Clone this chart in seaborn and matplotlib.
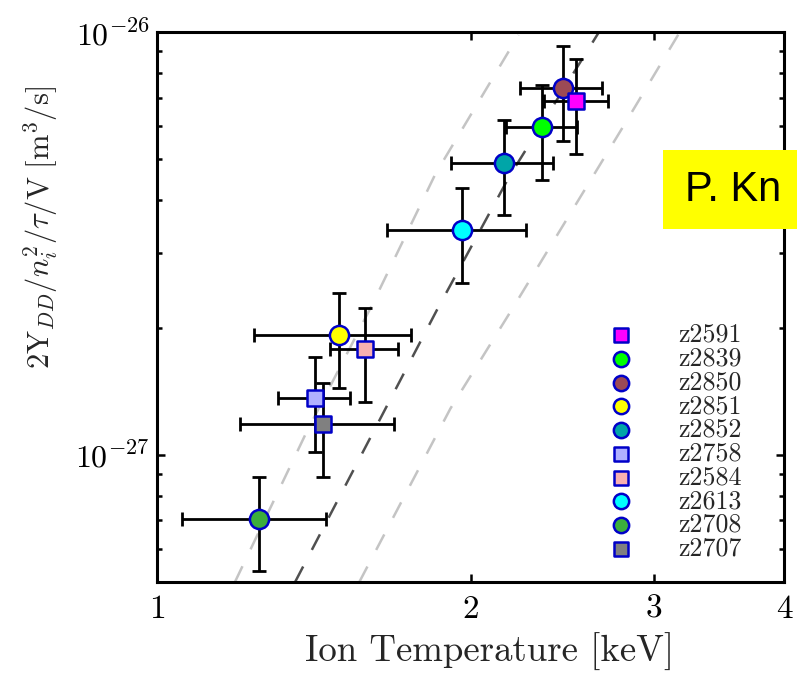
import math
import matplotlib
matplotlib.use('Agg')
import matplotlib.pyplot as plt
import matplotlib.ticker as mticker
from matplotlib.patches import Rectangle
import seaborn as sns

# shots, in legend order
shots = ['z2591', 'z2839', 'z2850', 'z2851', 'z2852', 'z2758', 'z2584', 'z2613', 'z2708', 'z2707']
markers = ['s', 'o', 'o', 'o', 'o', 's', 's', 'o', 'o', 's']
colors = ['#ff00ff', '#00ff00', '#9c4a55', '#ffff00', '#00a5a8', '#b0b0ff', '#f8b0b0', '#00ffff', '#3cae3c', '#808080']

# ion temperature [keV] with low / high error ends
ti = [2.523, 2.343, 2.452, 1.496, 2.156, 1.417, 1.584, 1.963, 1.254, 1.444]
ti_lo = [2.351, 2.161, 2.232, 1.239, 1.917, 1.306, 1.467, 1.664, 1.056, 1.202]
ti_hi = [2.709, 2.530, 2.673, 1.754, 2.398, 1.533, 1.703, 2.259, 1.453, 1.688]

# 2Y_DD / n_i^2 / tau / V [m^3/s] with low / high error ends
yld = [6.86e-27, 5.96e-27, 7.37e-27, 1.925e-27, 4.91e-27, 1.36e-27, 1.776e-27, 3.40e-27, 7.05e-28, 1.18e-27]
yld_lo = [5.16e-27, 4.47e-27, 5.52e-27, 1.44e-27, 3.69e-27, 1.016e-27, 1.33e-27, 2.55e-27, 5.31e-28, 8.84e-28]
yld_hi = [8.63e-27, 7.49e-27, 9.26e-27, 2.41e-27, 6.18e-27, 1.70e-27, 2.23e-27, 4.27e-27, 8.84e-28, 1.48e-27]

# reference curves
curve_mid_t = [1.357, 1.855, 2.180, 2.657]
curve_mid_y = [5e-28, 2.19e-27, 4.56e-27, 1e-26]
curve_lo_t = [1.188, 1.391, 1.610, 1.851, 2.224]
curve_lo_y = [5e-28, 1.128e-27, 2.27e-27, 4.62e-27, 9.84e-27]
curve_hi_t = [1.564, 1.913, 2.195, 2.800, 3.177]
curve_hi_y = [5e-28, 1.286e-27, 2.22e-27, 5.95e-27, 1e-26]

sns.set_style('ticks')
plt.rcParams['font.family'] = ['cmr10']
plt.rcParams['mathtext.fontset'] = 'cm'
plt.rcParams['axes.unicode_minus'] = False

fig = plt.figure(figsize=(7.97, 6.76), dpi=100)
ax = fig.add_axes([0.197, 0.139, 0.7867, 0.8136])

sns.lineplot(x=curve_lo_t, y=curve_lo_y, ax=ax, color='#c4c4c4', lw=1.8, dashes=False, zorder=1, sort=False)
sns.lineplot(x=curve_hi_t, y=curve_hi_y, ax=ax, color='#c4c4c4', lw=1.8, dashes=False, zorder=1, sort=False)
sns.lineplot(x=curve_mid_t, y=curve_mid_y, ax=ax, color='#505050', lw=1.8, dashes=False, zorder=1, sort=False)
for ln in ax.get_lines():
    ln.set_dashes((7, 7.5))

for i in range(len(shots)):
    ax.errorbar(ti[i], yld[i],
                xerr=[[ti[i] - ti_lo[i]], [ti_hi[i] - ti[i]]],
                yerr=[[yld[i] - yld_lo[i]], [yld_hi[i] - yld[i]]],
                fmt='none', ecolor='black', elinewidth=2.0, capsize=5, capthick=2.0, zorder=2)

for i in reversed(range(len(shots))):
    size = 190 if markers[i] == 'o' else 140
    sns.scatterplot(x=[ti[i]], y=[yld[i]], marker=markers[i], color=colors[i], s=size,
                    edgecolor='#0000c8', linewidth=1.8, label=shots[i], ax=ax, zorder=3)

ax.set_xscale('log')
ax.set_yscale('log')
ax.set_xlim(1, 4)
ax.set_ylim(5e-28, 1e-26)

ax.set_xticks([1, 2, 3, 4])
ax.set_xticklabels(['1', '2', '3', '4'])
ax.xaxis.set_minor_locator(mticker.NullLocator())
ax.yaxis.set_major_locator(mticker.FixedLocator([1e-27, 1e-26]))
ax.yaxis.set_major_formatter(mticker.FuncFormatter(lambda v, p: r'$10^{%d}$' % round(math.log10(v))))
ax.yaxis.set_minor_locator(mticker.LogLocator(base=10, subs=range(2, 10)))
ax.yaxis.set_minor_formatter(mticker.NullFormatter())

ax.tick_params(which='both', direction='in', top=True, right=True, width=1.8, colors='black')
ax.tick_params(which='major', length=6)
ax.tick_params(which='minor', length=3.5)
ax.tick_params(axis='x', labelsize=24, pad=9)
ax.tick_params(axis='y', labelsize=23, pad=5)
for sp in ax.spines.values():
    sp.set_linewidth(2.2)
    sp.set_color('black')

ax.set_xlabel('Ion Temperature [keV]', fontsize=26.5)
ax.xaxis.set_label_coords(0.53, -0.093)
ax.set_ylabel(r'$2\mathrm{Y}_{DD}/n_i^2/\tau/\mathrm{V}\ [\mathrm{m}^3/\mathrm{s}]$', fontsize=22)
ax.yaxis.set_label_coords(-0.155, 0.645)

handles, labels = ax.get_legend_handles_labels()
order = [labels.index(s) for s in shots]
ax.legend([handles[k] for k in order], [labels[k] for k in order],
          loc='upper left', bbox_to_anchor=(0.721, 0.4705), frameon=False,
          fontsize=18.7, markerscale=0.8, handlelength=0.95, handletextpad=1.7,
          labelspacing=0.0, borderpad=0, borderaxespad=0, scatterpoints=1)

fig.patches.append(Rectangle((0.832, 0.661), 0.2, 0.117, transform=fig.transFigure,
                             facecolor='#ffff00', edgecolor='none', zorder=5))
fig.text(0.859, 0.719, 'P. Kn', fontsize=30, family=['Liberation Sans', 'DejaVu Sans'],
         va='center', ha='left', color='black', zorder=6)

fig.savefig('out.png', dpi=100)
